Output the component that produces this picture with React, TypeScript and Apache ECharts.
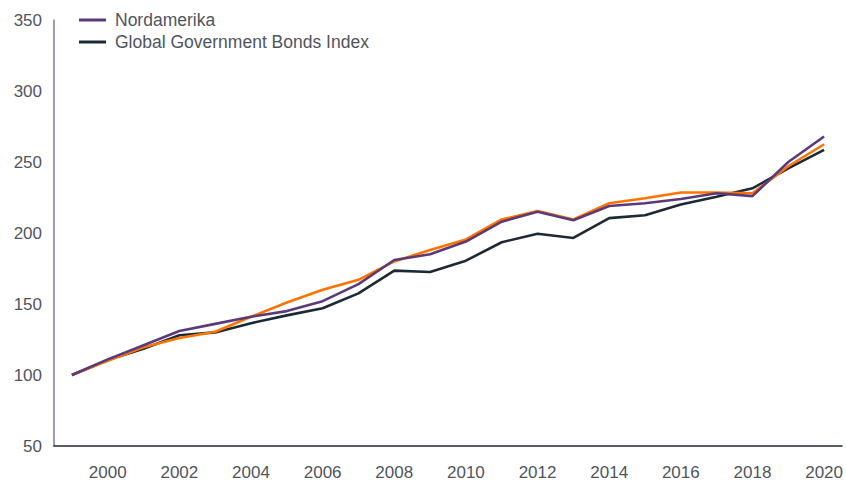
import React, { useEffect, useRef } from "react";
import * as echarts from "echarts";

const years = [
  "1999", "2000", "2001", "2002", "2003", "2004", "2005", "2006", "2007", "2008", "2009",
  "2010", "2011", "2012", "2013", "2014", "2015", "2016", "2017", "2018", "2019", "2020",
];

const nordamerika = [
  100, 111, 121, 131, 136, 141, 145, 152, 164, 181, 185,
  194, 208, 215, 209, 219, 221, 224, 228, 226, 250, 268,
];

const thirdSeries = [
  100, 110, 119.5, 126, 130.5, 141, 151, 160, 167, 180, 188,
  195.5, 209.5, 215.5, 209.5, 221, 224.5, 228.5, 228.5, 228, 247, 262.5,
];

const globalBonds = [
  100, 110.5, 118.5, 128, 130, 136.5, 142, 147, 157.5, 173.5, 172.5,
  180.5, 193.5, 199.5, 196.5, 210.5, 212.5, 220, 225.5, 231.5, 245.5, 258.5,
];

const yMin = 50;
const yMax = 350;
const yStep = 50;

const FONT = "'Liberation Sans', Arial, sans-serif";
const TEXT = "#50555c";

export default function App() {
  const ref = useRef<HTMLDivElement>(null);

  useEffect(() => {
    if (!ref.current) return;
    const chart = echarts.init(ref.current, undefined, { renderer: "svg" });
    chart.setOption({
      animation: false,
      textStyle: { fontFamily: FONT },
      grid: { left: 54, right: 4, top: 20, bottom: 35, containLabel: false },
      legend: {
        data: ["Nordamerika", "Global Government Bonds Index"],
        orient: "vertical",
        left: 79,
        top: 11,
        padding: 0,
        icon: "rect",
        itemWidth: 27,
        itemHeight: 3,
        itemGap: 4,
        textStyle: { fontSize: 17.5, color: TEXT, fontFamily: FONT, lineHeight: 17, padding: [0, 0, 0, 4] },
      },
      xAxis: {
        type: "category",
        data: years,
        boundaryGap: true,
        axisLine: { show: true, lineStyle: { color: "#1e2a36", width: 1.5 } },
        axisTick: { show: false },
        axisLabel: {
          interval: (i: number, v: string) => Number(v) % 2 === 0,
          color: TEXT,
          fontSize: 17,
          margin: 18,
          fontFamily: FONT,
        },
        splitLine: { show: false },
      },
      yAxis: {
        type: "value",
        min: yMin,
        max: yMax,
        interval: yStep,
        axisLine: { show: true, lineStyle: { color: "#7c828a", width: 1.5 } },
        axisTick: { show: false },
        axisLabel: { color: TEXT, fontSize: 17, margin: 12, fontFamily: FONT },
        splitLine: { show: false },
      },
      series: [
        {
          name: "Global Government Bonds Index",
          type: "line",
          data: globalBonds,
          symbol: "none",
          color: "#1b2a35",
          lineStyle: { width: 2.6, color: "#1b2a35" },
        },
        {
          name: "Serie 3",
          type: "line",
          data: thirdSeries,
          symbol: "none",
          color: "#ff7300",
          lineStyle: { width: 2.6, color: "#ff7300" },
        },
        {
          name: "Nordamerika",
          type: "line",
          data: nordamerika,
          symbol: "none",
          color: "#5b3a7c",
          lineStyle: { width: 2.6, color: "#5b3a7c" },
        },
      ],
    });
    return () => chart.dispose();
  }, []);

  return <div ref={ref} style={{ width: 846, height: 481, position: "absolute", left: 0, top: 0 }} />;
}
